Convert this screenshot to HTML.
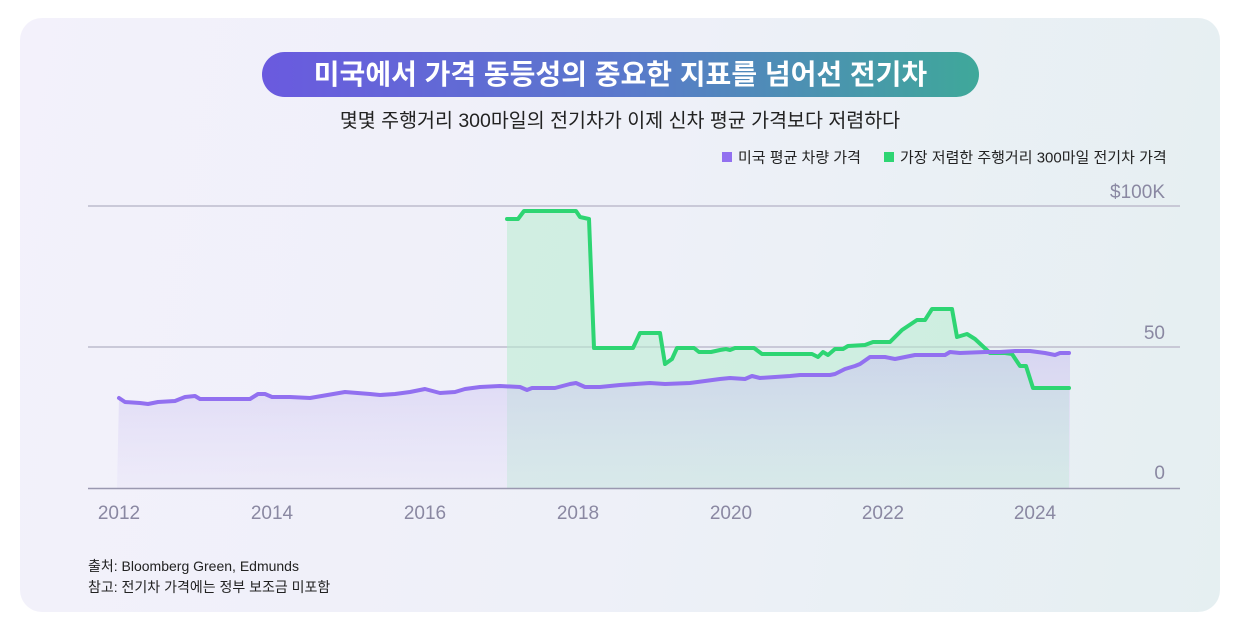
<!DOCTYPE html>
<html><head><meta charset="utf-8"><style>
body{margin:0;width:1240px;height:628px;background:#fff;font-family:"Liberation Sans","Noto Sans CJK KR",sans-serif;overflow:hidden}
.card{position:absolute;left:20px;top:18px;width:1200px;height:594px;border-radius:22px;background:linear-gradient(100deg,#f3f1fb 0%,#eef0f8 50%,#e5eff1 100%)}
.pill{position:absolute;left:262px;top:52px;width:717px;height:45px;border-radius:23px;background:linear-gradient(90deg,#6a5adf,#5a78cc 50%,#3fa89a);color:#fff;font-weight:bold;font-size:28px;text-align:center;line-height:45px;white-space:nowrap}
.sub{position:absolute;left:0;width:1240px;top:104px;text-align:center;font-size:19.5px;color:#222;white-space:nowrap}
.foot{position:absolute;left:88px;font-size:14px;color:#222}
</style></head><body>
<div class="card"></div>
<div class="pill">미국에서 가격 동등성의 중요한 지표를 넘어선 전기차</div>
<div class="sub">몇몇 주행거리 300마일의 전기차가 이제 신차 평균 가격보다 저렴하다</div>
<svg width="1240" height="628" style="position:absolute;left:0;top:0" font-family="Liberation Sans, Noto Sans CJK KR, sans-serif">
<defs>
<linearGradient id="pf" x1="0" y1="0" x2="0" y2="1"><stop offset="0" stop-color="#c9c0f0" stop-opacity=".55"/><stop offset="1" stop-color="#e6e0f8" stop-opacity=".35"/></linearGradient>
</defs>
<rect x="722" y="152" width="10" height="10" fill="#9270f0"/>
<text x="738" y="162.5" font-size="15" fill="#222">미국 평균 차량 가격</text>
<rect x="884" y="152" width="10" height="10" fill="#2ed573"/>
<text x="900" y="162.5" font-size="15" fill="#222">가장 저렴한 주행거리 300마일 전기차 가격</text>
<line x1="88" y1="206" x2="1180" y2="206" stroke="#bdbccd" stroke-width="1.5"/>
<line x1="88" y1="347" x2="1180" y2="347" stroke="#bdbccd" stroke-width="1.5"/>
<text x="1165" y="198" font-size="19" fill="#8a88a2" text-anchor="end">$100K</text>
<text x="1165" y="339" font-size="19" fill="#8a88a2" text-anchor="end">50</text>
<text x="1165" y="479" font-size="19" fill="#8a88a2" text-anchor="end">0</text>
<polygon fill="#b8eccf" fill-opacity=".55" points="507,488 507,219 518,219 524,211 576,211 580,217 589,219 594,348 633,348 640,333 660,333 665,364 672,359 677,348 694,348 699,352 711,352 720,350 726,349 730,350 735,348 754,348 762,354 812,354 818,357 823,352 828,355 835,349 843,349 848,346 865,345 873,342 890,342 902,330 908,326 917,320 925,320 932,309 952,309 957,337 967,334 975,339 990,353 1005,353 1012,354 1020,366 1026,366 1033,388 1069,388 1069,488"/>
<polygon fill="url(#pf)" points="117,488 119,398 125,402 140,403 148,404 158,402 175,401 185,397 195,396 200,399 250,399 258,394 265,394 272,397 290,397 310,398 345,392 370,394 380,395 395,394 410,392 425,389 440,393 455,392 465,389 480,387 500,386 520,387 527,390 532,388 555,388 570,384 576,383 585,387 600,387 610,386 620,385 650,383 665,384 690,383 720,379 730,378 745,379 752,376 760,378 790,376 800,375 830,375 835,374 845,369 855,366 860,364 870,357 885,357 895,359 905,357 915,355 945,355 950,352 960,353 985,352 1000,352 1015,351 1030,351 1045,353 1055,355 1060,353 1070,353 1070,488"/>
<polyline fill="none" stroke="#2ed573" stroke-width="4" stroke-linejoin="round" stroke-linecap="round" points="507,219 518,219 524,211 576,211 580,217 589,219 594,348 633,348 640,333 660,333 665,364 672,359 677,348 694,348 699,352 711,352 720,350 726,349 730,350 735,348 754,348 762,354 812,354 818,357 823,352 828,355 835,349 843,349 848,346 865,345 873,342 890,342 902,330 908,326 917,320 925,320 932,309 952,309 957,337 967,334 975,339 990,353 1005,353 1012,354 1020,366 1026,366 1033,388 1069,388"/>
<polyline fill="none" stroke="#9270f0" stroke-width="4" stroke-linejoin="round" stroke-linecap="round" points="119,398 125,402 140,403 148,404 158,402 175,401 185,397 195,396 200,399 250,399 258,394 265,394 272,397 290,397 310,398 345,392 370,394 380,395 395,394 410,392 425,389 440,393 455,392 465,389 480,387 500,386 520,387 527,390 532,388 555,388 570,384 576,383 585,387 600,387 610,386 620,385 650,383 665,384 690,383 720,379 730,378 745,379 752,376 760,378 790,376 800,375 830,375 835,374 845,369 855,366 860,364 870,357 885,357 895,359 905,357 915,355 945,355 950,352 960,353 985,352 1000,352 1015,351 1030,351 1045,353 1055,355 1060,353 1069,353"/>
<line x1="88" y1="488.5" x2="1180" y2="488.5" stroke="#9a98b0" stroke-width="1.5"/>
<g font-size="19" fill="#8a88a2" text-anchor="middle">
<text x="119" y="519">2012</text><text x="272" y="519">2014</text><text x="425" y="519">2016</text><text x="578" y="519">2018</text><text x="731" y="519">2020</text><text x="883" y="519">2022</text><text x="1035" y="519">2024</text>
</g>
</svg>
<div class="foot" style="top:556px">출처: Bloomberg Green, Edmunds</div>
<div class="foot" style="top:577px">참고: 전기차 가격에는 정부 보조금 미포함</div>
</body></html>
